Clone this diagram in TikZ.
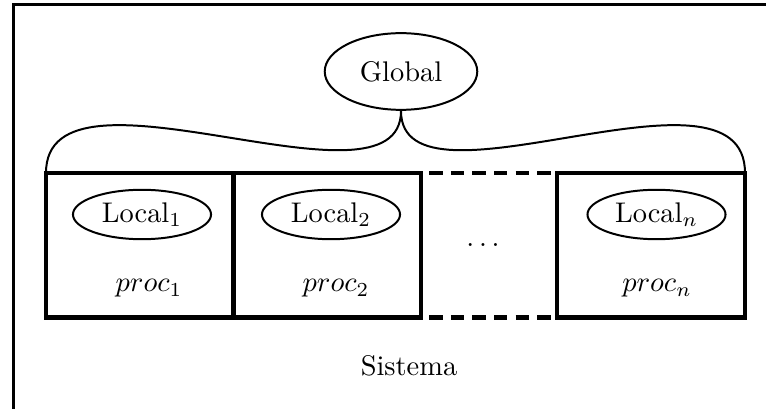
\documentclass[tikz,border=0pt]{standalone}
\usetikzlibrary{shapes.geometric,fit}
\begin{document}
\begin{tikzpicture}[x=0.352pt,y=-0.352pt,
  sysframe/.style={line width=1.2pt},
  procbox/.style={draw,line width=1.6pt,inner sep=0pt,outer sep=0pt},
  gapline/.style={line width=1.6pt,dash pattern=on 4.7pt off 2.9pt,dash phase=4.7pt},
  store/.style={draw,ellipse,line width=0.7pt,inner sep=0pt},
  bracecurve/.style={line width=0.7pt}]
\useasboundingbox (0,0) rectangle (766,409);
\clip (0,0) rectangle (766,409);
% system boundary
\draw[sysframe] (13.5,4.7) rectangle (820,440);
\node[anchor=base] (sys) at (409,376) {Sistema};
% processes
\node[procbox,fit={(46,173) (233.5,317.5)}] (p1) {};
\node[procbox,fit={(233.5,173) (421,317.5)}] (p2) {};
\node[procbox,fit={(557,173) (745,317.5)}] (pn) {};
\draw[gapline] (p2.north east) -- (pn.north west);
\draw[gapline] (p2.south east) -- (pn.south west);
\node[anchor=base] (dots) at (483,247) {$\ldots$};
% local stores
\node[store,minimum width=48.6pt,minimum height=17.4pt] (l1) at (142,214.5) {Local$_1$};
\node[store,minimum width=48.6pt,minimum height=17.4pt] (l2) at (331,214.5) {Local$_2$};
\node[store,minimum width=48.6pt,minimum height=17.4pt] (ln) at (656.5,214.5) {Local$_n$};
\node[anchor=base] (t1) at (149,292) {$proc_1$};
\node[anchor=base] (t2) at (336,292) {$proc_2$};
\node[anchor=base] (tn) at (657,292) {$proc_n$};
% global store
\node[store,minimum width=53.7pt,minimum height=27pt] (G) at (401,71.5) {Global};
\draw[bracecurve] (p1.north west) .. controls +(0,-126) and +(0,112) .. (G.south)
  .. controls +(0,112) and +(0,-126) .. (pn.north east);
\end{tikzpicture}
\end{document}
